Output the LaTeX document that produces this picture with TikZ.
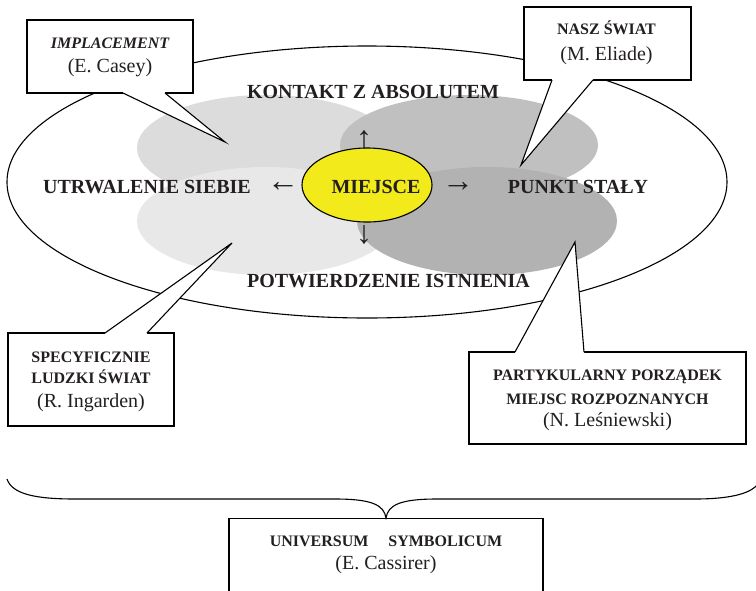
\documentclass[tikz,border=0pt]{standalone}
\usepackage{fontspec}
\setmainfont{Liberation Serif}
\usetikzlibrary{calc,shapes.geometric}
\definecolor{ink}{RGB}{35,31,32}
\definecolor{gA}{RGB}{220,220,220}
\definecolor{gB}{RGB}{192,192,192}
\definecolor{gC}{RGB}{232,232,232}
\definecolor{gD}{RGB}{178,178,178}
\definecolor{miej}{RGB}{242,234,26}
\newcommand\callptr[3]{%
  \fill[white] ($(#1)+(0,-2)$) -- (#1) -- (#2) -- (#3) -- ($(#3)+(0,-2)$) -- cycle;
  \draw (#1) -- (#2) -- (#3);}
\newcommand\callptrup[3]{%
  \fill[white] ($(#1)+(0,2)$) -- (#1) -- (#2) -- (#3) -- ($(#3)+(0,2)$) -- cycle;
  \draw (#1) -- (#2) -- (#3);}
\begin{document}
\begin{tikzpicture}[x=1pt,y=-1pt,line width=1.1pt,
  lbl/.style={font=\fontsize{20}{24}\selectfont\bfseries,text=ink,inner sep=0pt,anchor=base},
  small/.style={font=\fontsize{16}{19}\selectfont\bfseries,text=ink,inner sep=0pt,anchor=base},
  nm/.style={font=\fontsize{20}{24}\selectfont,text=ink,inner sep=0pt,anchor=base},
  arr/.style={font=\fontsize{32}{36}\selectfont,text=ink,inner sep=0pt,anchor=center},
  callbox/.style={draw=black,fill=white,rectangle,inner sep=0pt}]
\clip (0,0) rectangle (756,590);
\fill[white] (0,0) rectangle (756,590);
% big ellipse
\draw (367,182) ellipse [x radius=360,y radius=136];
% grey ellipses
\fill[gA] (266,148) ellipse [x radius=129,y radius=53];
\fill[gB] (469,145) ellipse [x radius=129,y radius=50];
\fill[gC] (266,221) ellipse [x radius=129,y radius=54];
\fill[gD] (487,221) ellipse [x radius=130,y radius=54];
% callouts
\node[callbox,minimum width=166pt,minimum height=73pt] (casey) at (110,56.5) {};
\coordinate (caseyB1) at (123,93);
\coordinate (caseyB2) at (165,93);
\coordinate (caseyTip) at (225,142);
\callptr{caseyB1}{caseyTip}{caseyB2}
\node[callbox,minimum width=167pt,minimum height=73pt] (eliade) at (607.5,43.5) {};
\coordinate (eliadeB1) at (552,80);
\coordinate (eliadeB2) at (593,80);
\coordinate (eliadeTip) at (521,165);
\callptr{eliadeB1}{eliadeTip}{eliadeB2}
\node[callbox,minimum width=166pt,minimum height=93pt] (ingarden) at (91,379.5) {};
\coordinate (ingB1) at (105,333);
\coordinate (ingB2) at (147,333);
\coordinate (ingTip) at (232,243);
\callptrup{ingB1}{ingTip}{ingB2}
\node[callbox,minimum width=277pt,minimum height=92pt] (lesn) at (607.5,398) {};
\coordinate (lesB1) at (515,352);
\coordinate (lesB2) at (584,352);
\coordinate (lesTip) at (575,242);
\callptrup{lesB1}{lesTip}{lesB2}
\node[callbox,minimum width=314pt,minimum height=100pt,anchor=north] (cass) at (386,518) {};
% brace
\coordinate (braceL) at (7,479);
\coordinate (braceR) at (758,484);
\draw (braceL) .. controls (12,494) and (35,499) .. (75,499) -- (335,499)
  .. controls (372,499) and (384,505) .. (cass.north)
  .. controls (388,505) and (400,499) .. (437,499) -- (695,499)
  .. controls (735,499) and (752,492) .. (braceR);
% callout texts
\node[small,font=\fontsize{16}{19}\selectfont\bfseries\itshape] (caseyT1) at (110,48) {IMPLACEMENT};
\node[nm] (caseyT2) at (110,72) {(E. Casey)};
\node[small] (eliadeT1) at (606.5,34) {NASZ ŚWIAT};
\node[nm] (eliadeT2) at (606.5,60) {(M. Eliade)};
\node[small] (ingT1) at (91,362) {SPECYFICZNIE};
\node[small] (ingT2) at (91,383) {LUDZKI ŚWIAT};
\node[nm] (ingT3) at (91,407) {(R. Ingarden)};
\node[small] (lesT1) at (607.5,380) {PARTYKULARNY PORZĄDEK};
\node[small] (lesT2) at (607.5,404) {MIEJSC ROZPOZNANYCH};
\node[nm] (lesT3) at (607.5,426) {(N. Leśniewski)};
\node[small] (cassT1) at (386,546) {UNIVERSUM\hspace{20pt}SYMBOLICUM};
\node[nm] (cassT2) at (386,569) {(E. Cassirer)};
% centre
\node[ellipse,draw=black,fill=miej,minimum width=130pt,minimum height=74pt,inner sep=0pt] (miejsce) at (367,185) {};
\node[lbl] (miejsceT) at (376,193) {MIEJSCE};
\node[lbl] (kontakt) at (373,98) {KONTAKT Z ABSOLUTEM};
\node[lbl] (utrw) at (147,193) {UTRWALENIE SIEBIE};
\node[lbl] (punkt) at (578,193) {PUNKT STAŁY};
\node[lbl] (potw) at (388.5,287) {POTWIERDZENIE ISTNIENIA};
\node[arr] (arL) at (283,187) {←};
\node[arr] (arR) at (458,187) {→};
\node[arr] (arU) at (364,140) {↑};
\node[arr] (arD) at (364,235) {↓};
\end{tikzpicture}
\end{document}
